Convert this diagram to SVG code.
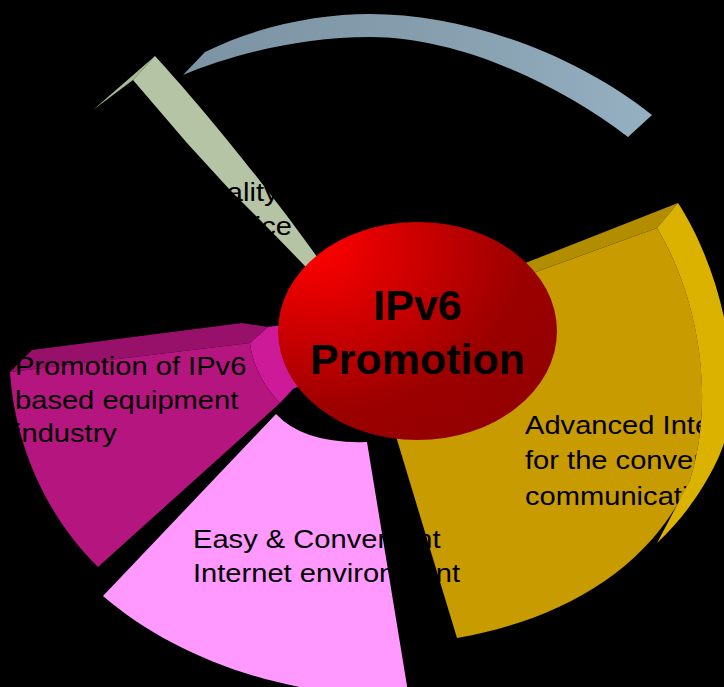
<svg xmlns="http://www.w3.org/2000/svg" width="724" height="687" viewBox="0 0 724 687">
  <defs>
    <style>
      .lbl { font-family: "Liberation Sans", Arial, sans-serif; font-size: 26px; fill: #000; }
      .title { font-family: "Liberation Sans", Arial, sans-serif; font-size: 43px; font-weight: bold; fill: #000; text-anchor: middle; }
    </style>
    <linearGradient id="ringGrad" x1="0" y1="0" x2="1" y2="0">
      <stop offset="0" stop-color="#7b93a3"/>
      <stop offset="0.5" stop-color="#859dad"/>
      <stop offset="1" stop-color="#95b0c1"/>
    </linearGradient>
    <radialGradient id="redGrad" cx="0.12" cy="0.12" r="1.0" fx="0.12" fy="0.12">
      <stop offset="0" stop-color="#ff0000"/>
      <stop offset="0.75" stop-color="#9c0000"/>
      <stop offset="1" stop-color="#940000"/>
    </radialGradient>
  </defs>

  <rect x="0" y="0" width="724" height="687" fill="#000"/>

  <g id="ring">
    <path d="M 183,75 L 205,52 C 260,25 320,14 370,14 C 460,14 570,50 652,115 L 628,137 C 560,85 460,37 370,37 C 300,37 230,55 183,75 Z" fill="url(#ringGrad)"/>
  </g>

  <g id="qos">
    <path d="M 93,110 L 155,56 L 133,80 Z" fill="#a8b898"/>
    <path d="M 133,80 L 155,56 C 200,105 270,190 325,268 L 315,276 L 302,263 L 270,230 L 230,190 L 187,143 Z" fill="#b5c4a5"/>
    <text class="lbl" transform="translate(188,0) scale(1.12,1)"><tspan x="0" y="201">Quality of</tspan></text>
    <text class="lbl" transform="translate(195,0) scale(1.12,1)"><tspan x="0" y="235">Service</tspan></text>
  </g>

  <g id="equipment">
    <path d="M 10,372 L 32,350 L 242,323 L 268,327 L 250,343 Z" fill="#97106a"/>
    <path d="M 250,343 L 268,327 L 302,322 L 302,385 L 293,389 L 280,403 C 262,385 252,362 250,343 Z" fill="#cc1a98"/>
    <path d="M 10,372 L 250,343 C 252,362 262,385 280,403 L 98,567 C 50,520 15,450 10,372 Z" fill="#b5157e"/>
    <text class="lbl" transform="translate(15,0) scale(1.12,1)">
      <tspan x="0" y="375">Promotion of IPv6</tspan>
      <tspan x="0" y="408.5">based equipment</tspan>
      <tspan x="0" y="442">industry</tspan>
    </text>
  </g>

  <g id="advanced">
    <path d="M 385,400 L 457,638 C 560,620 650,570 690,480 C 715,400 700,300 657,228 L 500,285 Z" fill="#c89b00"/>
    <path d="M 500,273 L 678,203 L 657,228 L 500,285 Z" fill="#b38d00"/>
    <text class="lbl" transform="translate(525,0) scale(1.12,1)">
      <tspan x="0" y="434">Advanced Internet</tspan>
      <tspan x="0" y="469.5">for the convergence</tspan>
      <tspan x="0" y="505">communication</tspan>
    </text>
    <path d="M 657,228 L 678,203 C 712,255 738,340 730,410 C 728,425 726,435 724,443 C 718,463 695,508 657,543 Q 671,517 690,480 C 715,400 700,300 657,228 Z" fill="#dcb200"/>
  </g>

  <g id="easy">
    <path d="M 276,414 Q 304,444 367,442 L 408,692 L 330,692 C 240,680 160,645 103,596 Z" fill="#ff99ff"/>
    <text class="lbl" transform="translate(193,0) scale(1.12,1)">
      <tspan x="0" y="548.5">Easy &amp; Convenient</tspan>
      <tspan x="0" y="582">Internet environment</tspan>
    </text>
  </g>

  <g id="center">
    <ellipse cx="417.5" cy="331" rx="139.5" ry="109" fill="url(#redGrad)"/>
    <text class="title" x="417.5" y="320">IPv6</text>
    <text class="title" x="417.5" y="373.5">Promotion</text>
  </g>

  <g id="connectors"/>
</svg>
